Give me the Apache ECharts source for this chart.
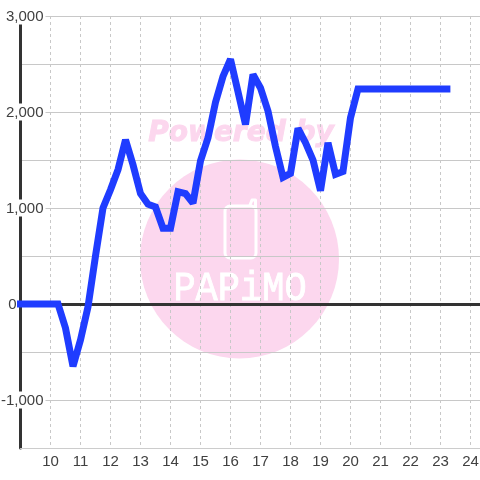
<!DOCTYPE html>
<html>
<head>
<meta charset="utf-8">
<style>
html, body { margin: 0; padding: 0; background: #fff; }
#chart { width: 480px; height: 480px; }
</style>
<script src="https://cdn.jsdelivr.net/npm/echarts@6/dist/echarts.min.js"></script>
</head>
<body>
<div id="chart"></div>
<script>
// hour of day (quarter hours), the first point sits just left of the axis
var hours = [8.88, 9, 9.25, 9.5, 9.75, 10, 10.25, 10.5, 10.75, 11, 11.25, 11.5, 11.75,
	12, 12.25, 12.5, 12.75, 13, 13.25, 13.5, 13.75, 14, 14.25, 14.5, 14.75,
	15, 15.25, 15.5, 15.75, 16, 16.25, 16.5, 16.75, 17, 17.25, 17.5, 17.75,
	18, 18.25, 18.5, 18.75, 19, 19.25, 19.5, 19.75, 20, 20.25, 20.5, 20.75,
	21, 21.25, 21.5, 21.75, 22, 22.25, 22.5, 22.75, 23, 23.33];
var values = [0, 0, 0, 0, 0, 0, 0, -250, -650, -375, -30, 500, 1000,
	1190, 1400, 1710, 1450, 1150, 1040, 1010, 790, 790, 1170, 1150, 1050,
	1490, 1730, 2100, 2370, 2550, 2210, 1870, 2390, 2250, 2010, 1640, 1320,
	1360, 1830, 1680, 1500, 1180, 1680, 1350, 1380, 1940, 2240, 2240, 2240,
	2240, 2240, 2240, 2240, 2240, 2240, 2240, 2240, 2240, 2240];
var yTickLabels = [-1000, 0, 1000, 2000, 3000];

var points = hours.map(function(h, i){
	return [h, values[i]];
});

var pink = '#fcd7ee';
var xMin = 9, xMax = 24.317;

var chart = echarts.init(document.getElementById('chart'));

chart.setOption({
	animation: false,
	backgroundColor: '#fff',
	textStyle: { fontFamily: '"Liberation Sans", Arial, sans-serif' },
	grid: { left: 20.5, right: 0, top: 16, bottom: 32, outerBoundsMode: 'none' },
	xAxis: [
		{
			type: 'value', min: xMin, max: xMax, interval: 1,
			axisLine: { onZero: false, lineStyle: { color: '#ccc', width: 1 } },
			axisTick: { show: false },
			axisLabel: {
				show: true, fontSize: 15, color: '#404040', margin: 6,
				showMinLabel: false, showMaxLabel: false,
				formatter: function(v){ return v === Math.round(v) ? String(v) : ''; }
			},
			splitLine: {
				show: true, showMinLine: false, showMaxLine: false,
				lineStyle: { color: '#c8c8c8', width: 1, type: [3, 3] }
			}
		},
		{
			// dark zero line, no labels of its own
			type: 'value', min: xMin, max: xMax, interval: 1, position: 'top',
			axisLine: { onZero: true, lineStyle: { color: '#333', width: 3 } },
			axisTick: { show: false },
			axisLabel: { show: false },
			splitLine: { show: false }
		}
	],
	yAxis: {
		type: 'value', min: -1500, max: 3000, interval: 500,
		axisLine: { show: true, onZero: false, lineStyle: { color: '#333', width: 3 } },
		axisTick: { show: false },
		axisLabel: {
			inside: true, align: 'right', margin: 25, fontSize: 15, color: '#404040',
			showMinLabel: true, showMaxLabel: true,
			formatter: function(v){
				if( yTickLabels.indexOf(v) < 0 ){
					return '';
				}
				if( v === 0 ){
					return '{zero|0}{gap|}';
				}
				return '{tick|' + echarts.format.addCommas(v) + '}';
			},
			rich: {
				tick: { fontSize: 15, color: '#404040', backgroundColor: '#fff', padding: [2, 2, 0, 2], lineHeight: 16 },
				zero: { fontSize: 15, color: '#404040', padding: [2, 0, 0, 0], lineHeight: 16 },
				gap: { width: 29 }
			}
		},
		splitLine: { show: true, lineStyle: { color: '#c8c8c8', width: 1 } }
	},
	graphic: {
		elements: [
			{ type: 'circle', silent: true, z: -1, shape: { cx: 239.5, cy: 259, r: 99.5 }, style: { fill: pink } },
			{ type: 'text', silent: true, z: -1, x: 241, y: 134, style: {
				text: 'Powered by', fill: pink, stroke: pink, lineWidth: 1, align: 'center', verticalAlign: 'middle',
				font: 'italic bold 28px "DejaVu Sans"'
			} },
			{ type: 'rect', silent: true, z: -1, shape: { x: 225, y: 206, width: 31, height: 52, r: 5 },
				style: { fill: 'none', stroke: '#fff', lineWidth: 3 } },
			{ type: 'polyline', silent: true, z: -1, shape: { points: [[250, 205], [252, 200], [255.5, 200], [255.5, 208]] },
				style: { fill: 'none', stroke: '#fff', lineWidth: 3, lineCap: 'round', lineJoin: 'round' } },
			{ type: 'text', silent: true, z: -1, x: 240, y: 289, scaleY: 1.12, style: {
				text: 'PAPiMO', fill: '#fff', stroke: '#fff', lineWidth: 0.8, align: 'center', verticalAlign: 'middle',
				font: '37px "Liberation Mono"'
			} }
		]
	},
	series: [
		{
			type: 'line',
			xAxisIndex: 0,
			data: points,
			clip: false,
			showSymbol: false,
			symbol: 'none',
			lineStyle: { color: '#1f3cff', width: 7, join: 'miter', miterLimit: 2, cap: 'butt' },
			z: 5
		}
	]
});
</script>
</body>
</html>
